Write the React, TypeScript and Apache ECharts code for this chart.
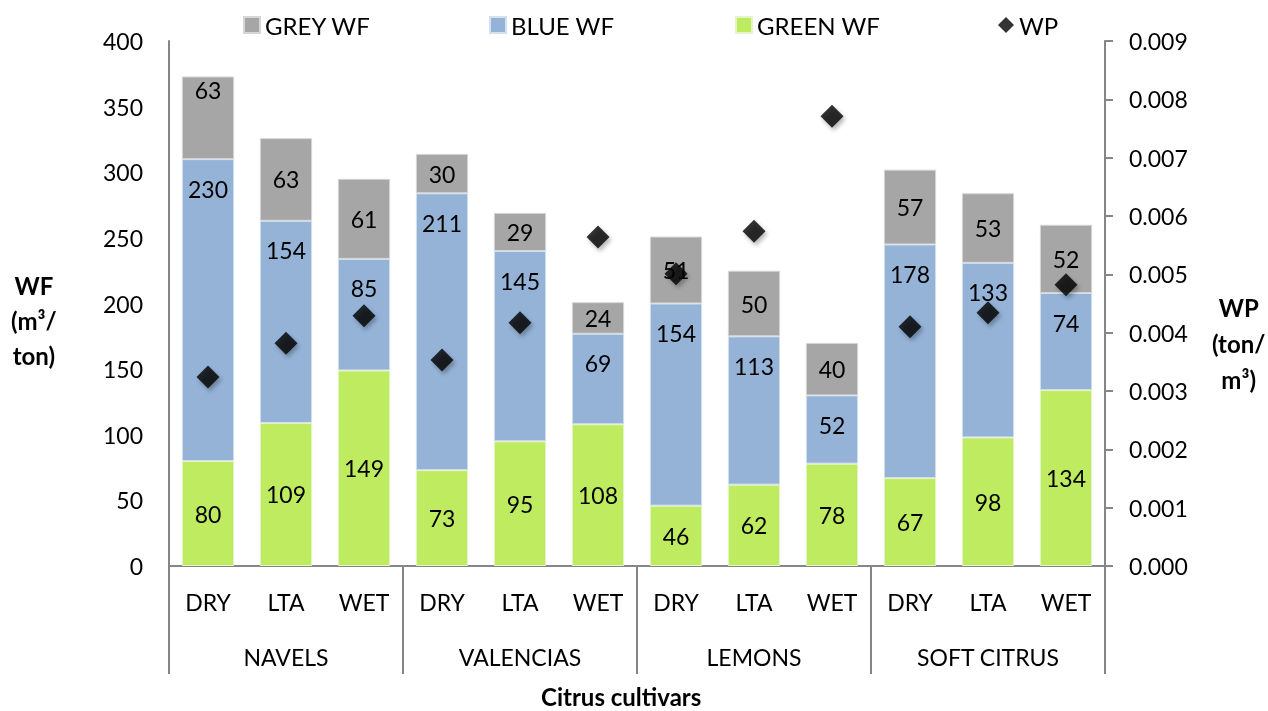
import React, { useEffect, useRef } from "react";
import * as echarts from "echarts";

const seasons = ["DRY", "LTA", "WET", "DRY", "LTA", "WET", "DRY", "LTA", "WET", "DRY", "LTA", "WET"];
const cultivars = ["NAVELS", "VALENCIAS", "LEMONS", "SOFT CITRUS"];
const greenWF = [80, 109, 149, 73, 95, 108, 46, 62, 78, 67, 98, 134];
const blueWF = [230, 154, 85, 211, 145, 69, 154, 113, 52, 178, 133, 74];
const greyWF = [63, 63, 61, 30, 29, 24, 51, 50, 40, 57, 53, 52];
const wp = [0.00324, 0.00382, 0.00429, 0.00353, 0.00417, 0.00564, 0.00501, 0.00574, 0.00771, 0.0041, 0.00434, 0.00482];

const FONT = "Lato";

export default function App() {
  const ref = useRef<HTMLDivElement>(null);
  useEffect(() => {
    if (!ref.current) return;
    const chart = echarts.init(ref.current, null, { renderer: "svg" });
    const axisColor = "#868686";
    const labelStyle = { color: "#000", fontSize: 23, fontFamily: FONT };
    const barLabel = { show: true, position: "inside", color: "#000", fontSize: 23, fontFamily: FONT };
    const legendBase = {
      top: 13,
      padding: 0,
      itemWidth: 16,
      itemHeight: 16,
      itemGap: 6,
      textStyle: { color: "#000", fontSize: 24, fontFamily: FONT },
    };
    chart.setOption({
      animation: false,
      textStyle: { fontFamily: FONT },
      legend: [
        { ...legendBase, left: 243, data: [{ name: "GREY WF", icon: "rect" }] },
        { ...legendBase, left: 489, data: [{ name: "BLUE WF", icon: "rect" }] },
        { ...legendBase, left: 735, data: [{ name: "GREEN WF", icon: "rect" }] },
        { ...legendBase, left: 998, data: [{ name: "WP", icon: "diamond" }] },
      ],
      grid: { left: 169, right: 163, top: 41, bottom: 145, containLabel: false },
      title: {
        text: "Citrus cultivars",
        left: 541,
        top: 684,
        padding: 0,
        textStyle: { fontSize: 24, lineHeight: 24, fontWeight: "bold", fontFamily: FONT, color: "#000" },
      },
      graphic: [
        {
          type: "text",
          left: 11,
          top: 268,
          style: {
            text: "WF\n(m³/\nton)",
            font: `bold 24px ${FONT}`,
            fill: "#000",
            textAlign: "center",
            lineHeight: 35,
          },
        },
        {
          type: "text",
          left: 1212,
          top: 289,
          style: {
            text: "WP\n(ton/\nm³)",
            font: `bold 24px ${FONT}`,
            fill: "#000",
            textAlign: "center",
            lineHeight: 36,
          },
        },
      ],
      xAxis: [
        {
          type: "category",
          data: seasons,
          position: "bottom",
          axisLine: { show: true, lineStyle: { color: axisColor, width: 2 } },
          axisTick: { show: false },
          axisLabel: { ...labelStyle, margin: 24, interval: 0 },
        },
        {
          type: "category",
          data: cultivars,
          position: "bottom",
          axisLine: { show: false },
          axisTick: { show: true, length: 108, interval: 0, lineStyle: { color: axisColor, width: 2 } },
          axisLabel: { ...labelStyle, margin: 79, interval: 0 },
        },
      ],
      yAxis: [
        {
          type: "value",
          min: 0,
          max: 400,
          interval: 50,
          axisLine: { show: true, lineStyle: { color: axisColor, width: 2 } },
          axisTick: { show: false },
          splitLine: { show: false },
          axisLabel: { ...labelStyle, margin: 26 },
        },
        {
          type: "value",
          min: 0,
          max: 0.009,
          interval: 0.001,
          position: "right",
          axisLine: { show: true, lineStyle: { color: axisColor, width: 2 } },
          axisTick: { show: true, length: 8, lineStyle: { color: axisColor, width: 2 } },
          splitLine: { show: false },
          axisLabel: { ...labelStyle, margin: 24, formatter: (v: number) => v.toFixed(3) },
        },
      ],
      series: [
        {
          name: "GREEN WF",
          type: "bar",
          stack: "wf",
          data: greenWF,
          barCategoryGap: "33%",
          itemStyle: { color: "#BEEB5F", borderColor: "#E6F5C8", borderWidth: 1 },
          label: barLabel,
        },
        {
          name: "BLUE WF",
          type: "bar",
          stack: "wf",
          data: blueWF,
          itemStyle: { color: "#95B3D7", borderColor: "#D5E1EF", borderWidth: 1 },
          label: { ...barLabel, position: "insideTop", distance: 18 },
        },
        {
          name: "GREY WF",
          type: "bar",
          stack: "wf",
          data: greyWF.map((v, i) =>
            i === 0 ? { value: v, label: { position: "insideTop", distance: 2 } } : v
          ),
          itemStyle: { color: "#A6A6A6", borderColor: "#D6D6D6", borderWidth: 1 },
          label: barLabel,
        },
        {
          name: "WP",
          type: "scatter",
          yAxisIndex: 1,
          data: wp,
          symbol: "diamond",
          symbolSize: 23,
          z: 10,
          itemStyle: {
            color: "#000",
            shadowBlur: 4,
            shadowColor: "rgba(0,0,0,0.35)",
            shadowOffsetX: 2,
            shadowOffsetY: 3,
          },
        },
      ],
    });
    return () => chart.dispose();
  }, []);
  return <div ref={ref} style={{ position: "fixed", left: 0, top: 0, width: 1268, height: 711 }} />;
}
